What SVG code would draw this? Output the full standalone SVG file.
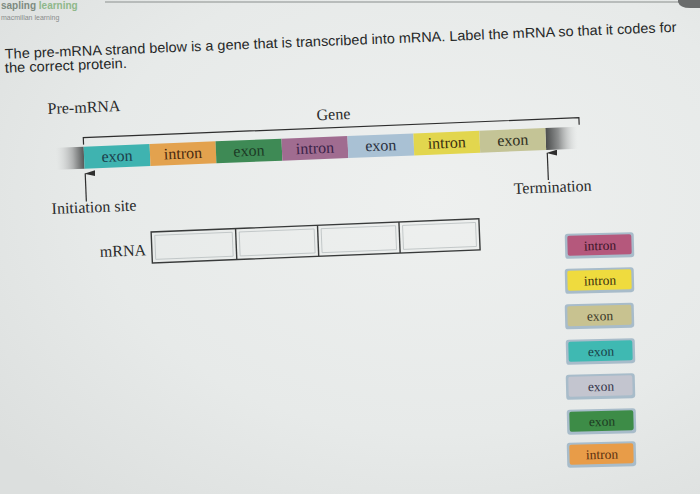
<svg xmlns="http://www.w3.org/2000/svg" width="700" height="494" viewBox="0 0 700 494">
<defs>
<radialGradient id="bg" cx="0.62" cy="0.4" r="0.8">
<stop offset="0" stop-color="#eef0ef"/>
<stop offset="0.6" stop-color="#e7eae9"/>
<stop offset="1" stop-color="#dcdfde"/>
</radialGradient>
<linearGradient id="fadeL" x1="0" y1="0" x2="1" y2="0">
<stop offset="0" stop-color="#d6d8d8" stop-opacity="0"/>
<stop offset="0.6" stop-color="#aeb0b0"/>
<stop offset="1" stop-color="#555757"/>
</linearGradient>
<linearGradient id="fadeR" x1="0" y1="0" x2="1" y2="0">
<stop offset="0" stop-color="#4a4c4c"/>
<stop offset="0.4" stop-color="#8e9090"/>
<stop offset="1" stop-color="#d6d8d8" stop-opacity="0"/>
</linearGradient>
<marker id="ah" viewBox="0 0 6 11" refX="3" refY="1" markerWidth="6" markerHeight="11" markerUnits="userSpaceOnUse" orient="auto-start-reverse">
<path d="M0,11 L3,0 L6,11 Z" fill="#2e2e2e"/>
</marker>
<style>
.q{font-family:"Liberation Sans",Arial,sans-serif;font-size:14px;fill:#262828}
.lab{font-family:"Liberation Serif","Times New Roman",serif;font-size:16px;fill:#2a2b2b}
.seg{font-family:"Liberation Serif","Times New Roman",serif;font-size:16px;text-anchor:middle}
.tile{font-family:"Liberation Serif","Times New Roman",serif;font-size:13.5px;text-anchor:middle}
.tb{fill:#a8bcca}
.arrow{stroke:#2e2e2e;stroke-width:1.2;fill:none}
.box{fill:none;stroke:#383a3a;stroke-width:1.4}
.cell{fill:none;stroke:#b9bfc0;stroke-width:0.8}
</style>
</defs>
<rect x="0" y="0" width="700" height="494" fill="url(#bg)"/>
<line x1="105" y1="2" x2="680" y2="2" stroke="#a9acab" stroke-width="1.5"/>
<path d="M678,0 L700,0 L700,8 L690,8 Q680,8 678,2 Z" fill="#6a6c6c"/>
<g id="header">
<text x="1" y="9" font-family="'Liberation Sans',Arial,sans-serif" font-size="10" font-weight="bold"><tspan fill="#7d8a80">sapling </tspan><tspan fill="#8fb88a">learning</tspan></text>
<text x="1" y="20" font-family="'Liberation Sans',Arial,sans-serif" font-size="7" fill="#8a8c8c">macmillan learning</text>
</g>
<g transform="rotate(-2.3 350 200)">
<g id="question">
<text class="q" x="11" y="45" textLength="672" lengthAdjust="spacingAndGlyphs">The pre-mRNA strand below is a gene that is transcribed into mRNA. Label the mRNA so that it codes for</text>
<text class="q" x="10.5" y="59" textLength="122" lengthAdjust="spacingAndGlyphs">the correct protein.</text>
</g>
<g id="labels">
<text class="lab" x="51.5" y="102">Pre-mRNA</text>
<text class="lab" x="320" y="119">Gene</text>
<text class="lab" x="51.5" y="202">Initiation site</text>
<text class="lab" x="514" y="200.5">Termination</text>
<text class="lab" x="98" y="247">mRNA</text>
</g>
<g id="gene-bracket">
<path d="M86,134 L86,127 L582,127 L582,134" fill="none" stroke="#2e2e2e" stroke-width="1.2"/>
</g>
<g id="pre-mrna">
<rect x="58" y="136" width="28" height="22" fill="url(#fadeL)"/>
<rect x="548" y="136" width="32" height="22" fill="url(#fadeR)"/>
<g id="seg1"><rect x="86" y="136" width="66" height="22" fill="#3fb3b0"/><text class="seg" x="119" y="152" fill="#1c3d4a">exon</text></g>
<g id="seg2"><rect x="152" y="136" width="66" height="22" fill="#e3a24e"/><text class="seg" x="185" y="152" fill="#4a2a10">intron</text></g>
<g id="seg3"><rect x="218" y="136" width="66" height="22" fill="#3e8a55"/><text class="seg" x="251" y="152" fill="#1c3a25">exon</text></g>
<g id="seg4"><rect x="284" y="136" width="66" height="22" fill="#a06c90"/><text class="seg" x="317" y="152" fill="#3a2248">intron</text></g>
<g id="seg5"><rect x="350" y="136" width="66" height="22" fill="#a9c1d4"/><text class="seg" x="383" y="152" fill="#2a3040">exon</text></g>
<g id="seg6"><rect x="416" y="136" width="66" height="22" fill="#e2d64e"/><text class="seg" x="449" y="152" fill="#3a3010">intron</text></g>
<g id="seg7"><rect x="482" y="136" width="66" height="22" fill="#c4c496"/><text class="seg" x="515" y="152" fill="#2e2e20">exon</text></g>
</g>
<g id="connectors">
<line class="arrow" x1="86.5" y1="191" x2="86.5" y2="163" marker-end="url(#ah)"/>
<line class="arrow" x1="549" y1="188" x2="549" y2="161" marker-end="url(#ah)"/>
</g>
<g id="mrna-box">
<rect class="cell" x="153.5" y="227.5" width="77.5" height="24"/>
<rect class="cell" x="238" y="227.5" width="75" height="24"/>
<rect class="cell" x="320" y="227.5" width="74.5" height="24"/>
<rect class="cell" x="401.5" y="227.5" width="73" height="24"/>
<rect class="box" x="150" y="224" width="328" height="31"/>
<line class="box" x1="234.5" y1="224" x2="234.5" y2="255"/>
<line class="box" x1="316.5" y1="224" x2="316.5" y2="255"/>
<line class="box" x1="398" y1="224" x2="398" y2="255" stroke-width="2"/>
</g>
</g>
<g id="tile1" transform="rotate(-1.5 600 245.5)"><rect class="tb" x="565" y="233" width="69" height="25" rx="3"/><rect x="567.5" y="235" width="64" height="20" rx="2" fill="#b5587c"/><text class="tile" x="600" y="250" fill="#3b1428">intron</text></g>
<g id="tile2" transform="rotate(-1.5 600 280.5)"><rect class="tb" x="565" y="268" width="69" height="25" rx="3"/><rect x="567.5" y="270" width="64" height="20" rx="2" fill="#efdb3e"/><text class="tile" x="600" y="285" fill="#3a3010">intron</text></g>
<g id="tile3" transform="rotate(-1.5 600 316)"><rect class="tb" x="565" y="303.5" width="69" height="25" rx="3"/><rect x="567.5" y="305.5" width="64" height="20" rx="2" fill="#c8c290"/><text class="tile" x="600" y="320.5" fill="#3a3828">exon</text></g>
<g id="tile4" transform="rotate(-1.5 600 351.5)"><rect class="tb" x="566" y="339" width="69" height="25" rx="3"/><rect x="568.5" y="341" width="64" height="20" rx="2" fill="#3fb9b2"/><text class="tile" x="601" y="356" fill="#1a4048">exon</text></g>
<g id="tile5" transform="rotate(-1.5 600 386.5)"><rect class="tb" x="566" y="374" width="69" height="25" rx="3"/><rect x="568.5" y="376" width="64" height="20" rx="2" fill="#c3c5cf"/><text class="tile" x="601" y="391" fill="#33344a">exon</text></g>
<g id="tile6" transform="rotate(-1.5 600 421.5)"><rect class="tb" x="567" y="409" width="69" height="25" rx="3"/><rect x="569.5" y="411" width="64" height="20" rx="2" fill="#3d8c47"/><text class="tile" x="602" y="426" fill="#1c3a22">exon</text></g>
<g id="tile7" transform="rotate(-1.5 600 454.5)"><rect class="tb" x="567" y="442" width="69" height="25" rx="3"/><rect x="569.5" y="444" width="64" height="20" rx="2" fill="#e89c48"/><text class="tile" x="602" y="459" fill="#5a3010">intron</text></g>
</svg>
